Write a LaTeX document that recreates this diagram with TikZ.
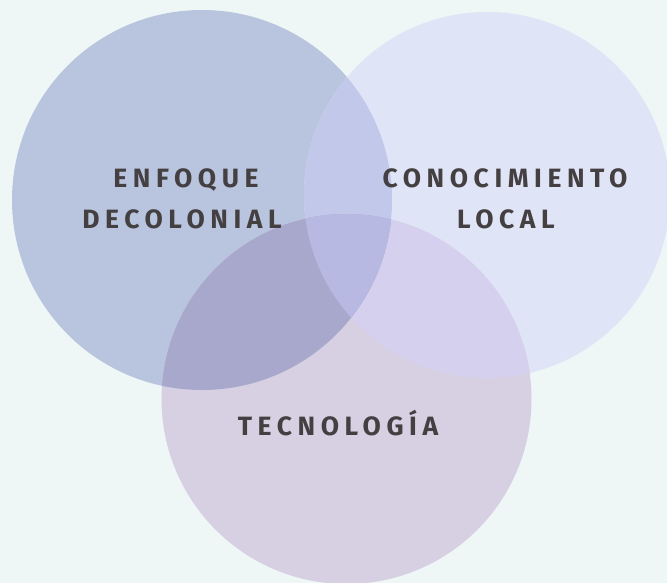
\documentclass[tikz,border=0pt]{standalone}
\usepackage{fontspec}
\newfontfamily\labelfont{Fira Sans}[LetterSpace=21]
\usetikzlibrary{positioning}

\definecolor{bgcol}{RGB}{238,247,245}
\definecolor{circA}{RGB}{185,196,222}
\definecolor{circB}{RGB}{224,228,247}
\definecolor{circC}{RGB}{215,208,227}
\definecolor{circAB}{RGB}{193,200,234}
\definecolor{circAC}{RGB}{168,168,204}
\definecolor{circBC}{RGB}{213,208,238}
\definecolor{circABC}{RGB}{184,185,226}
\definecolor{txtcol}{RGB}{68,64,66}

\tikzset{
  lbl/.style={anchor=base, inner sep=0pt, text=txtcol,
    font=\labelfont\bfseries\fontsize{26.5}{30}\selectfont}
}

\begin{document}
\begin{tikzpicture}[x=1pt,y=-1pt]

% background
\fill[bgcol] (0,0) rectangle (667,583);
\useasboundingbox (0,0) rectangle (667,583);

% the three circles
\fill[circA] (202,200) circle (190);
\fill[circB] (487,195) circle (183);
\fill[circC] (346.5,399) circle (185);

% overlaps
\begin{scope}
\clip (487,195) circle (183);
\fill[circBC] (346.5,399) circle (185);
\end{scope}
\begin{scope}
\clip (202,200) circle (190);
\fill[circAB] (487,195) circle (183);
\fill[circAC] (346.5,399) circle (185);
\clip (487,195) circle (183);
\fill[circABC] (346.5,399) circle (185);
\end{scope}

% labels
\node[lbl] (enfoque) at (186,188) {ENFOQUE};
\node[lbl] (decolonial) at (182,228) {DECOLONIAL};
\node[lbl] (conocimiento) at (505,188) {CONOCIMIENTO};
\node[lbl] (local) at (506,228) {LOCAL};
\node[lbl] (tecnologia) at (338,435) {TECNOLOGÍA};

\end{tikzpicture}
\end{document}
